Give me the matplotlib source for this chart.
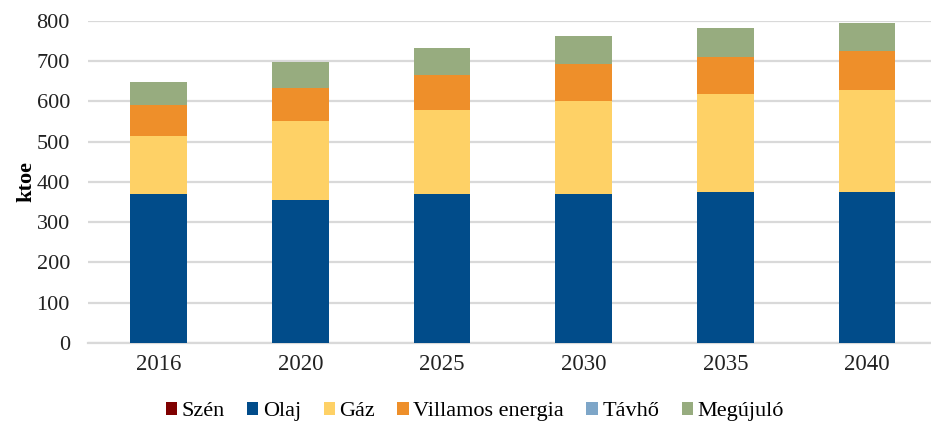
import numpy as np
import matplotlib
matplotlib.use('Agg')
import matplotlib.pyplot as plt
from matplotlib.patches import Patch

plt.rcParams['font.family'] = 'Liberation Serif'

years = ['2016', '2020', '2025', '2030', '2035', '2040']
series = ['Szén', 'Olaj', 'Gáz', 'Villamos energia', 'Távhő', 'Megújuló']
szen     = [0, 0, 0, 0, 0, 0]
olaj     = [369, 355, 371, 371, 374, 376]
gaz      = [145, 197, 208, 231, 244, 252]
villamos = [76, 82, 87, 92, 93, 96]
tavho    = [0, 0, 0, 0, 0, 0]
megujulo = [58, 63, 66, 68, 70, 70]
colors = ['#7f0000', '#014c8a', '#fed166', '#ee8f2a', '#7ea6c8', '#97ac7f']

values = [szen, olaj, gaz, villamos, tavho, megujulo]

fig = plt.figure(figsize=(9.31, 4.25), dpi=100)
ax = fig.add_axes([0.0945, 0.193, 0.913, 0.758])

x = np.arange(len(years))
bottom = np.zeros(len(years))
for name, vals, col in zip(series, values, colors):
    vals = np.array(vals, dtype=float)
    ax.bar(x, vals, 0.40, bottom=bottom, color=col, label=name, zorder=3)
    bottom += vals

ax.set_xlim(-0.5, len(years) - 0.5)
ax.set_ylim(0, 800)
ax.set_yticks(range(0, 801, 100))
ax.set_xticks(x)
ax.set_xticklabels(years)
ax.tick_params(axis='x', length=0, labelsize=16.5, colors='#222222', pad=8)
ax.tick_params(axis='y', length=0, labelsize=16, colors='#222222', pad=13)
ax.grid(axis='y', color='#d9d9d9', lw=1.6, zorder=0)
for s in ['top', 'right', 'left']:
    ax.spines[s].set_visible(False)
ax.spines['bottom'].set_color('#d9d9d9')
ax.spines['bottom'].set_linewidth(1.6)
ax.set_ylabel('ktoe', fontsize=16, fontweight='bold', labelpad=0)

handles = [Patch(facecolor=c, label=n) for n, c in zip(series, colors)]
fig.legend(handles=handles, loc='center', bbox_to_anchor=(0.51, 0.031), ncol=6,
           frameon=False, fontsize=16, handlelength=0.5, handleheight=0.5,
           handletextpad=0.22, columnspacing=1.0, borderpad=0)

fig.savefig('out.png', dpi=100)
